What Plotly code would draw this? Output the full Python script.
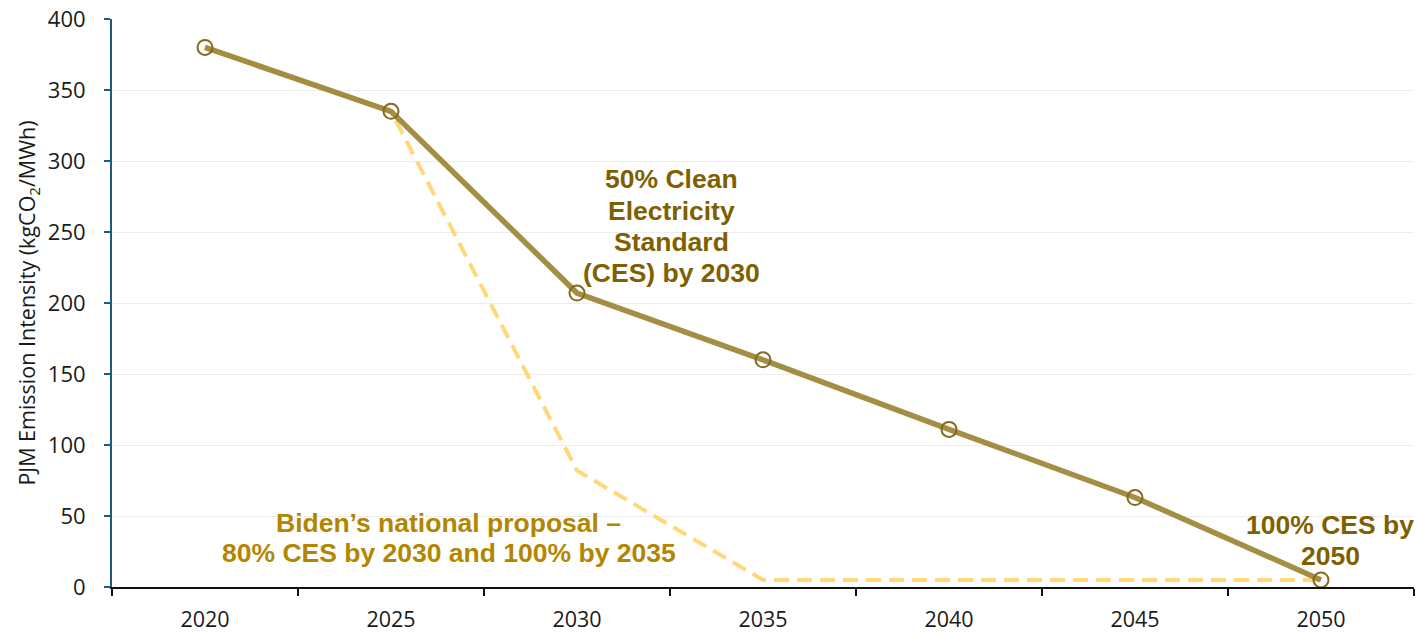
import plotly.graph_objects as go

years = ["2020", "2025", "2030", "2035", "2040", "2045", "2050"]
ces_50 = [380, 335, 207, 160, 111, 63, 5]
biden = [380, 335, 82, 5, 5, 5, 5]
y_ticks = [0, 50, 100, 150, 200, 250, 300, 350, 400]

fig = go.Figure()
fig.add_trace(go.Scatter(
    x=years, y=biden, mode="lines",
    line=dict(color="#FFD878", width=4, dash="15px,8px"),
    showlegend=False, hoverinfo="skip"))
fig.add_trace(go.Scatter(
    x=years, y=ces_50, mode="lines+markers",
    line=dict(color="#A08839", width=5.5),
    opacity=0.95,
    marker=dict(symbol="circle-open", size=15, color="#7F6210", line=dict(width=2, color="#7F6210")),
    showlegend=False))

ann_font = dict(family="Liberation Sans, Arial, sans-serif", size=26.5)

def add_lines(x, ys, lines, color):
    for y, t in zip(ys, lines):
        fig.add_annotation(x=x, y=y, xref="x", yref="y", showarrow=False,
                           text="<b>" + t + "</b>",
                           font=dict(color=color, **ann_font), align="center")

add_lines(2.51, [287, 265, 243, 221],
          ["50% Clean", "Electricity", "Standard", "(CES) by 2030"], "#7F6000")
add_lines(1.31, [45, 24],
          ["Biden’s national proposal –", "80% CES by 2030 and 100% by 2035"], "#B38600")
add_lines(6.05, [43.5, 22],
          ["100% CES by", "2050"], "#7F6000")

fig.update_layout(
    width=1417, height=636,
    margin=dict(l=112, r=3, t=18, b=48),
    paper_bgcolor="white", plot_bgcolor="white",
    font=dict(family="Open Sans, sans-serif", color="#1a1a1a"),
    xaxis=dict(type="category", range=[-0.5, 6.5], tickson="boundaries",
               ticks="outside", ticklen=7, tickwidth=2, tickcolor="#111",
               showline=True, linecolor="#111", linewidth=2,
               showgrid=False, tickfont=dict(size=21.5, color="#1a1a1a"),
               ticklabelstandoff=12),
    yaxis=dict(range=[0, 400], tickvals=y_ticks, ticks="outside", ticklen=6,
               tickwidth=2, tickcolor="#1F5C7C",
               showline=True, linecolor="#1F5C7C", linewidth=2,
               showgrid=True, gridcolor="#EDEDED", gridwidth=1,
               zeroline=False,
               tickfont=dict(size=22, color="#1a1a1a"), ticklabelstandoff=14,
               title=dict(text="PJM Emission Intensity (kgCO<sub>2</sub>/MWh)",
                          font=dict(size=21.5, color="#1a1a1a"), standoff=6)),
)

fig.write_html("out.html")
